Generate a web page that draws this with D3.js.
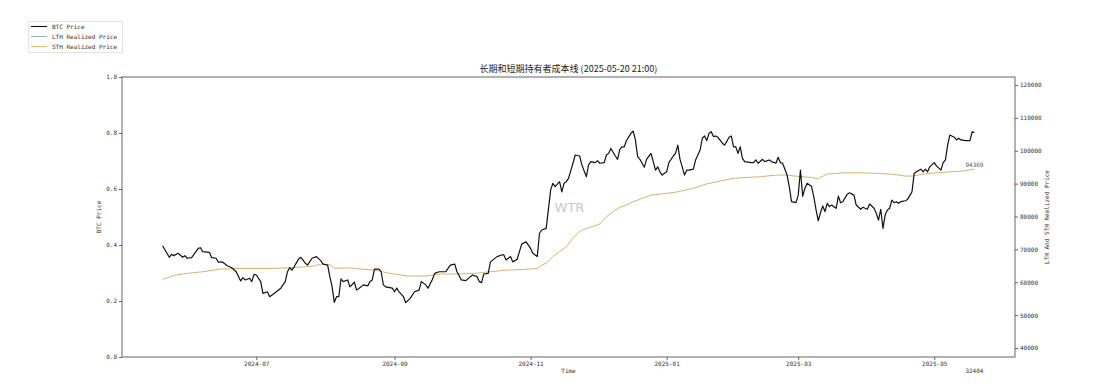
<!DOCTYPE html>
<html><head><meta charset="utf-8">
<script src="https://cdn.jsdelivr.net/npm/d3@7"></script>
<style>
body{margin:0;background:#fff}
svg{display:block}
.tk text{font-family:"DejaVu Sans Mono",monospace;font-size:6px;fill:#333}
.tk line{stroke:#444;stroke-width:0.8}
.tk path{display:none}
</style>
</head><body>
<svg id="c" width="1116" height="392"></svg>
<script>
const btcDates = ["2024-05-20","2024-05-23","2024-05-24","2024-05-25","2024-05-27","2024-05-29","2024-05-30","2024-05-31","2024-06-02","2024-06-05","2024-06-06","2024-06-07","2024-06-10","2024-06-11","2024-06-13","2024-06-14","2024-06-16","2024-06-18","2024-06-20","2024-06-22","2024-06-24","2024-06-25","2024-06-26","2024-06-28","2024-06-29","2024-06-30",
"2024-07-01","2024-07-03","2024-07-04","2024-07-06","2024-07-07","2024-07-09","2024-07-10","2024-07-12","2024-07-14","2024-07-15","2024-07-16","2024-07-17","2024-07-18","2024-07-20","2024-07-21","2024-07-23","2024-07-24","2024-07-26","2024-07-28","2024-07-30","2024-07-31",
"2024-08-02","2024-08-03","2024-08-04","2024-08-05","2024-08-06","2024-08-07","2024-08-08","2024-08-09","2024-08-11","2024-08-12","2024-08-14","2024-08-15","2024-08-17","2024-08-18","2024-08-20","2024-08-21","2024-08-22","2024-08-23","2024-08-25","2024-08-26","2024-08-27","2024-08-28","2024-08-31",
"2024-09-01","2024-09-02","2024-09-03","2024-09-05","2024-09-06","2024-09-08","2024-09-10","2024-09-12","2024-09-13","2024-09-15","2024-09-16","2024-09-18","2024-09-19","2024-09-21","2024-09-24","2024-09-25","2024-09-26","2024-09-28","2024-09-29",
"2024-10-01","2024-10-03","2024-10-05","2024-10-06","2024-10-08","2024-10-09","2024-10-10","2024-10-11","2024-10-13","2024-10-14","2024-10-17","2024-10-19","2024-10-20","2024-10-21","2024-10-23","2024-10-24","2024-10-26","2024-10-27","2024-10-28","2024-10-30",
"2024-11-01","2024-11-02","2024-11-04","2024-11-05","2024-11-06","2024-11-08","2024-11-10","2024-11-11","2024-11-12","2024-11-14","2024-11-15","2024-11-16","2024-11-17","2024-11-18","2024-11-20","2024-11-21","2024-11-23","2024-11-24","2024-11-26","2024-11-27","2024-11-28","2024-11-30",
"2024-12-01","2024-12-02","2024-12-04","2024-12-05","2024-12-06","2024-12-07","2024-12-09","2024-12-10","2024-12-11","2024-12-12","2024-12-13","2024-12-14","2024-12-16","2024-12-17","2024-12-18","2024-12-19","2024-12-20","2024-12-22","2024-12-23","2024-12-25","2024-12-26","2024-12-27","2024-12-28","2024-12-29","2024-12-30",
"2025-01-01","2025-01-02","2025-01-04","2025-01-05","2025-01-06","2025-01-07","2025-01-08","2025-01-09","2025-01-10","2025-01-11","2025-01-13","2025-01-14","2025-01-16","2025-01-17","2025-01-18","2025-01-19","2025-01-20","2025-01-21","2025-01-22","2025-01-23","2025-01-24","2025-01-26","2025-01-27","2025-01-29","2025-01-30","2025-01-31",
"2025-02-01","2025-02-02","2025-02-03","2025-02-04","2025-02-05","2025-02-08","2025-02-09","2025-02-10","2025-02-11","2025-02-13","2025-02-14","2025-02-16","2025-02-17","2025-02-19","2025-02-20","2025-02-21","2025-02-22","2025-02-24","2025-02-25","2025-02-26","2025-02-28",
"2025-03-01","2025-03-02","2025-03-03","2025-03-04","2025-03-05","2025-03-07","2025-03-08","2025-03-09","2025-03-10","2025-03-11","2025-03-12","2025-03-13","2025-03-14","2025-03-15","2025-03-16","2025-03-18","2025-03-19","2025-03-20","2025-03-21","2025-03-23","2025-03-24","2025-03-26","2025-03-27","2025-03-29","2025-03-30",
"2025-04-01","2025-04-02","2025-04-04","2025-04-05","2025-04-06","2025-04-07","2025-04-08","2025-04-09","2025-04-10","2025-04-11","2025-04-12","2025-04-13","2025-04-14","2025-04-15","2025-04-16","2025-04-18","2025-04-19","2025-04-21","2025-04-22","2025-04-23","2025-04-25","2025-04-26","2025-04-27","2025-04-28","2025-04-29",
"2025-05-01","2025-05-02","2025-05-04","2025-05-05","2025-05-06","2025-05-07","2025-05-08","2025-05-10","2025-05-11","2025-05-12","2025-05-13","2025-05-15","2025-05-17","2025-05-18","2025-05-19"];
const btcPrice = [71100,67600,68500,68100,68800,67600,68100,67300,67500,70300,70500,69300,69100,67500,67300,66100,66100,65000,64400,63200,60400,61400,60700,61200,60200,62400,
62200,60200,56600,57100,55600,56600,57100,58200,60200,63200,64400,63700,64700,67100,67600,65800,65200,67300,67800,66500,65500,
65200,61700,58600,53900,55600,55600,61000,60200,60700,58600,60000,57600,58600,59200,58900,60200,60700,64000,64000,63200,59200,58600,58200,
57100,58200,57100,55600,53800,55100,57100,57600,60200,59200,58200,60900,62700,63200,63200,64200,65200,65500,63200,
60700,60500,61700,62200,61700,60200,59900,62500,62700,66200,67800,68300,68300,66800,67800,66200,67000,69300,71600,72300,
70300,68800,67800,74900,75900,76400,88100,90100,89100,90600,87500,90100,90600,91600,96200,98700,98400,95700,92100,95700,96700,96400,
97000,96200,96400,98700,99200,100700,98400,97400,100400,101200,101200,103100,105300,106000,103300,98200,97400,95000,97400,99200,96700,94100,95100,93600,92600,
93600,96400,98400,99200,101700,97400,95100,92600,94100,94100,94400,97200,100200,103800,104500,103100,105300,105800,104300,104500,104100,102300,101700,104100,104500,101200,
101200,99200,101200,97700,96700,96400,96400,97200,96200,97400,96700,97200,96700,96200,98000,96400,96200,92600,89100,84500,84200,
86500,94100,86100,88600,90100,89100,86000,82000,78700,81200,83200,81500,84000,83000,83500,82500,86200,84200,84500,86800,87200,86500,83500,82200,82800,
82200,83800,82500,81000,78900,82200,76400,80500,82000,82500,85000,84200,84500,84000,84500,84800,85200,87500,93100,93600,94400,93600,94400,93600,95100,
96400,95400,94100,96400,97200,101700,104800,104100,103300,103800,103300,103100,103100,105800,105500];

const sthDates = ["2024-05-20","2024-05-26","2024-05-31","2024-06-07","2024-06-15","2024-06-23","2024-07-01","2024-07-08","2024-07-15","2024-07-23","2024-07-27","2024-07-30","2024-08-03","2024-08-05","2024-08-11","2024-08-17","2024-08-23","2024-08-30","2024-09-07","2024-09-15","2024-09-22","2024-09-29","2024-10-07","2024-10-14","2024-10-21","2024-10-29","2024-11-04","2024-11-06","2024-11-08","2024-11-11","2024-11-14","2024-11-17","2024-11-20","2024-11-23","2024-11-26","2024-11-29","2024-12-02","2024-12-05","2024-12-08","2024-12-11","2024-12-14","2024-12-17","2024-12-21","2024-12-25","2024-12-29","2025-01-06","2025-01-13","2025-01-19","2025-01-25","2025-01-31","2025-02-06","2025-02-12","2025-02-19","2025-02-24","2025-03-02","2025-03-07","2025-03-10","2025-03-11","2025-03-14","2025-03-22","2025-03-29","2025-04-06","2025-04-13","2025-04-18","2025-04-21","2025-04-28","2025-05-05","2025-05-13","2025-05-19"];
const sthPrice = [60900,62200,62700,63200,64000,64200,64200,64200,64400,64700,65000,65500,65400,64200,64400,64000,63700,62700,61900,61900,62500,62500,62700,63200,63700,63900,64200,65200,65800,67800,69300,70800,73400,75400,76400,77000,77700,79900,81500,82800,83500,84500,85500,86500,86800,87500,88600,89900,90800,91600,91900,92100,92600,92600,92100,91900,91400,91900,92900,93300,93300,93100,92800,92300,92300,93100,93400,93800,94369];

const leftTicks = [0, 0.2, 0.4, 0.6, 0.8, 1.0];
const rightTicks = [40000, 50000, 60000, 70000, 80000, 90000, 100000, 110000, 120000];
const legendLabels = ["BTC Price", "LTH Realized Price", "STH Realized Price"];
const legendColors = ["#111111", "#9fb3c8", "#d8c070"];
const titleText = "长期和短期持有者成本线 (2025-05-20 21:00)";
const countText = "32404";

const svg = d3.select("#c");
const L = 122, R = 1015, T = 77, B = 357;
const parse = d3.utcParse("%Y-%m-%d");
const btc = btcDates.map((d, i) => ({d: parse(d), v: btcPrice[i]}));
const sth = sthDates.map((d, i) => ({d: parse(d), v: sthPrice[i]}));

const ext = d3.extent(btc, p => p.d);
const span = ext[1] - ext[0];
const x = d3.scaleUtc().domain([new Date(+ext[0] - span * 0.05), new Date(+ext[1] + span * 0.05)]).range([L, R]);
const yL = d3.scaleLinear().domain([0, 1]).range([B, T]);
const yR = d3.scaleLinear().domain([37262, 122434]).range([B, T]);

// watermark
svg.append("text").attr("x", (L + R) / 2 + 1).attr("y", 212).attr("text-anchor", "middle")
  .style("font-family", "DejaVu Sans").style("font-size", "13px").style("fill", "#c9c9c9").text("WTR");

// lines
const line = d3.line().x(p => x(p.d)).y(p => yR(p.v));
svg.append("path").datum(sth).attr("d", line).attr("fill", "none").attr("stroke", "#d6a85c").attr("stroke-width", 0.9);
svg.append("path").datum(btc).attr("d", line).attr("fill", "none").attr("stroke", "#111").attr("stroke-width", 1.2).attr("stroke-linejoin", "round");

// frame
svg.append("rect").attr("x", L).attr("y", T).attr("width", R - L).attr("height", B - T)
  .attr("fill", "none").attr("stroke", "#555").attr("stroke-width", 0.9);

// axes
const xTicks = x.ticks(d3.utcMonth.every(2));
svg.append("g").attr("class", "tk").attr("transform", `translate(0,${B})`)
  .call(d3.axisBottom(x).tickValues(xTicks).tickFormat(d3.utcFormat("%Y-%m")).tickSize(3).tickPadding(2));
svg.append("g").attr("class", "tk").attr("transform", `translate(${L},0)`)
  .call(d3.axisLeft(yL).tickValues(leftTicks).tickFormat(d3.format(".1f")).tickSize(3).tickPadding(2));
svg.append("g").attr("class", "tk").attr("transform", `translate(${R},0)`)
  .call(d3.axisRight(yR).tickValues(rightTicks).tickFormat(d3.format("d")).tickSize(3).tickPadding(2));

const lab = {"font-family": "DejaVu Sans Mono, monospace", "font-size": "6px", "fill": "#333"};
function styled(sel, st) { Object.entries(st).forEach(([k, v]) => sel.style(k, v)); return sel; }

styled(svg.append("text").attr("transform", `translate(101,${(T + B) / 2}) rotate(-90)`).attr("text-anchor", "middle").text("BTC Price"), lab);
styled(svg.append("text").attr("transform", `translate(1049,${(T + B) / 2}) rotate(-90)`).attr("text-anchor", "middle").text("LTH And STH Realized Price"), lab);
styled(svg.append("text").attr("x", (L + R) / 2).attr("y", 373).attr("text-anchor", "middle").text("Time"), lab);
const lastB = btc[btc.length - 1];
styled(svg.append("text").attr("x", x(lastB.d)).attr("y", 373).attr("text-anchor", "middle").text(countText), lab);
const lastS = sth[sth.length - 1];
styled(svg.append("text").attr("x", x(lastS.d) - 9).attr("y", yR(lastS.v) - 2).text(String(lastS.v)), Object.assign({}, lab, {fill: "#555"}));

// title
svg.append("text").attr("x", (L + R) / 2).attr("y", 72).attr("text-anchor", "middle")
  .style("font-family", "Noto Sans CJK SC").style("font-size", "9px").style("fill", "#222").text(titleText);

// legend
const lg = svg.append("g");
lg.append("rect").attr("x", 28.5).attr("y", 21.5).attr("width", 94).attr("height", 31)
  .attr("fill", "#fff").attr("stroke", "#ddd").attr("stroke-width", 0.8);
legendLabels.forEach((t, i) => {
  const yy = 26.5 + i * 10;
  lg.append("line").attr("x1", 31).attr("x2", 47).attr("y1", yy).attr("y2", yy).attr("stroke", legendColors[i]).attr("stroke-width", 1.1);
  styled(lg.append("text").attr("x", 52).attr("y", yy + 2).text(t), lab);
});
</script>
</body></html>
